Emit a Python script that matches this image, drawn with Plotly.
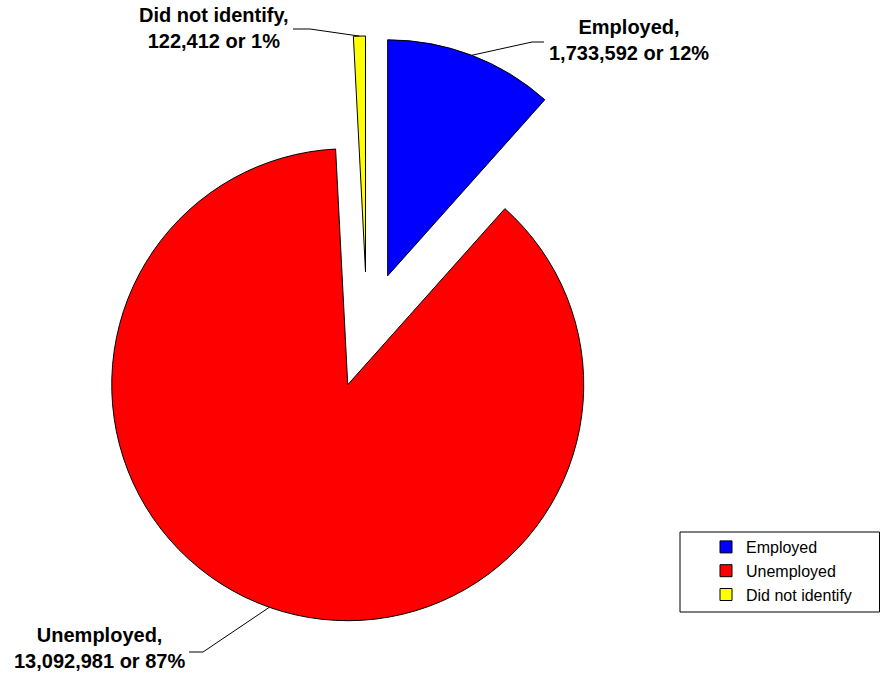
import math
import plotly.graph_objects as go

# ---- data ----
labels = ["Employed", "Unemployed", "Did not identify"]
values = [1733592, 13092981, 122412]
percent_labels = ["12%", "87%", "1%"]
colors = ["#0000FF", "#FF0000", "#FFFF00"]

# ---- geometry (pixels) ----
W, H = 880, 677
CX, CY = 367, 330      # centre of the un-exploded pie
R = 236                # radius
PULL_PX = 58           # explosion distance
pull = PULL_PX / R
half = R + PULL_PX

def px(x):
    return x / W

def py(y):
    return 1 - y / H

fig = go.Figure(go.Pie(
    labels=labels,
    values=values,
    sort=False,
    direction="clockwise",
    rotation=0,
    pull=[pull] * len(values),
    marker=dict(colors=colors, line=dict(color="black", width=1)),
    textinfo="none",
    hoverinfo="label+value+percent",
    domain=dict(x=[px(CX - half), px(CX + half)], y=[py(CY + half), py(CY - half)]),
))

# label text positions and leader-line elbows (pixels)
label_pos = [(629, 40), (99, 648), (214, 28)]
elbows = [[(532, 42), (544, 42)], [(203, 652), (189, 652)], [(310, 29), (293, 29)]]

total = sum(values)
cum = 0
shapes = []
annotations = []
for i, v in enumerate(values):
    theta = math.radians(360 * (cum + v / 2) / total)
    cum += v
    dx, dy = math.sin(theta), -math.cos(theta)
    sx, sy = CX + (PULL_PX + R) * dx, CY + (PULL_PX + R) * dy
    pts = [(sx, sy)] + elbows[i]
    for (x0, y0), (x1, y1) in zip(pts[:-1], pts[1:]):
        shapes.append(dict(type="line", xref="paper", yref="paper",
                           x0=px(x0), y0=py(y0), x1=px(x1), y1=py(y1),
                           line=dict(color="black", width=1)))
    lx, ly = label_pos[i]
    annotations.append(dict(
        x=px(lx), y=py(ly), xref="paper", yref="paper", showarrow=False,
        text=f"<b>{labels[i]},<br>{v:,} or {percent_labels[i]}</b>",
        font=dict(family="Arial, Liberation Sans, sans-serif", size=20, color="black"),
        xanchor="center", yanchor="middle", align="center",
    ))

# legend frame
shapes.append(dict(type="rect", xref="paper", yref="paper",
                   x0=px(680), y0=py(612), x1=px(879.5), y1=py(532),
                   line=dict(color="black", width=1), fillcolor="white", layer="above"))

fig.update_layout(
    width=W, height=H,
    margin=dict(l=0, r=0, t=0, b=0),
    paper_bgcolor="white",
    plot_bgcolor="white",
    font=dict(family="Arial, Liberation Sans, sans-serif", color="black"),
    shapes=shapes,
    annotations=annotations,
    showlegend=True,
    legend=dict(
        x=px(706), y=py(530), xanchor="left", yanchor="top",
        borderwidth=0, bgcolor="rgba(0,0,0,0)",
        font=dict(size=16, color="black"),
        traceorder="normal",
    ),
)

fig.write_html("out.html", config={"displayModeBar": False},
               post_script="document.body.style.margin='0';document.body.style.overflow='hidden';")
